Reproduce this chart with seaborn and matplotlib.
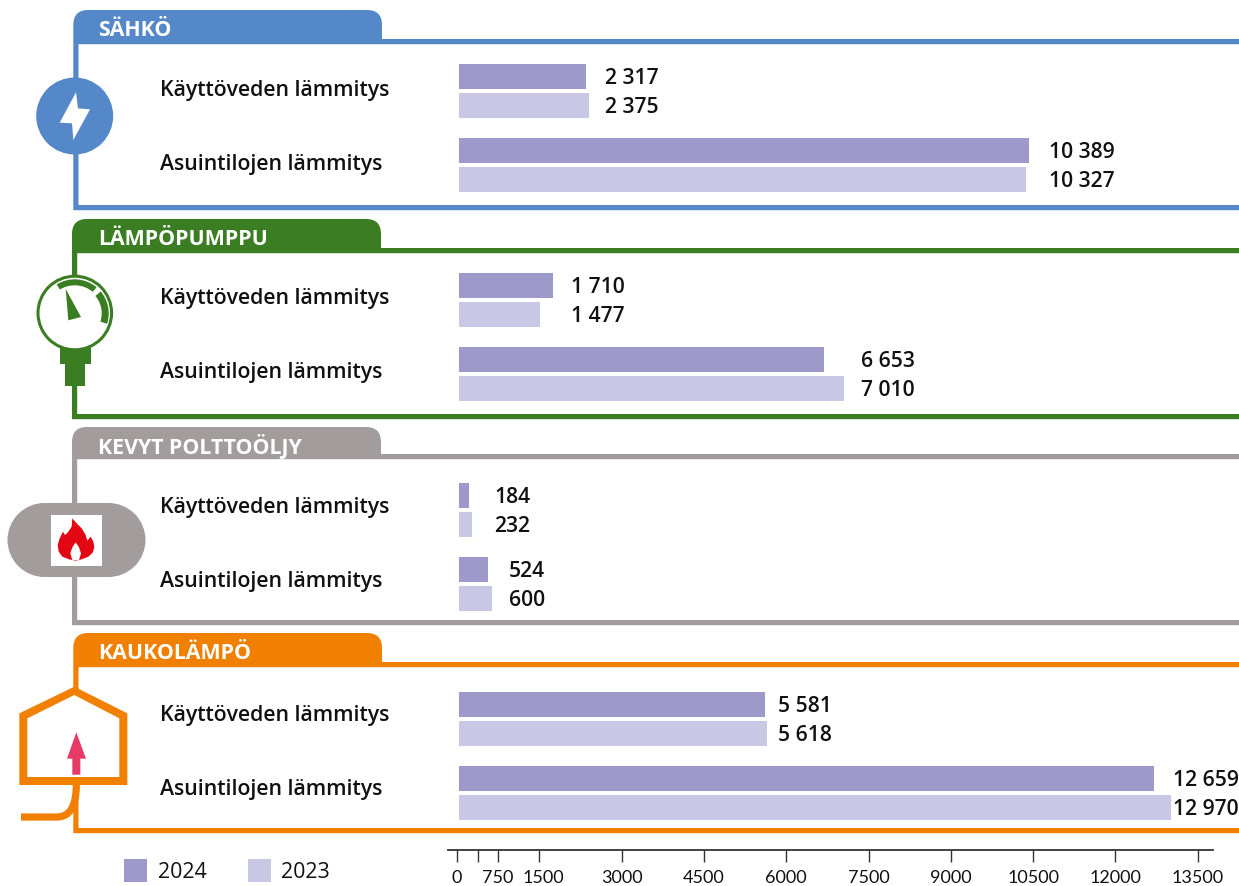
import matplotlib
matplotlib.use("Agg")
import matplotlib.pyplot as plt
from matplotlib.transforms import ScaledTranslation
import pandas as pd
import seaborn as sns
from matplotlib.patches import Circle, Polygon, Rectangle, PathPatch, Wedge
from matplotlib.path import Path

sns.set_theme(style="white")
plt.rcParams["font.family"] = ["Open Sans", "Noto Sans", "DejaVu Sans"]

# Energy use by heating source and purpose
uses = ["Käyttöveden lämmitys", "Asuintilojen lämmitys"]
years = ["2024", "2023"]
sources = ["SÄHKÖ", "LÄMPÖPUMPPU", "KEVYT POLTTOÖLJY", "KAUKOLÄMPÖ"]
sahko_2024 = [2317, 10389]
sahko_2023 = [2375, 10327]
pumppu_2024 = [1710, 6653]
pumppu_2023 = [1477, 7010]
oljy_2024 = [184, 524]
oljy_2023 = [232, 600]
kauko_2024 = [5581, 12659]
kauko_2023 = [5618, 12970]
axis_ticks = [0, 375, 750, 1500, 3000, 4500, 6000, 7500, 9000, 10500, 12000, 13500]
axis_labels = ["0", "", "750", "1500", "3000", "4500", "6000", "7500", "9000", "10500", "12000", "13500"]

W, H = 1239, 886
BLUE, GREEN, GREY, ORANGE = "#5588C8", "#3B7D23", "#A29C9C", "#F28000"
C24, C23 = "#9D99CB", "#C8C8E6"
INK = "#111111"
PX_PER_UNIT = 0.05487

fig = plt.figure(figsize=(W / 100, H / 100), dpi=100)
bg = fig.add_axes([0, 0, 1, 1], zorder=0)
bg.set_xlim(0, W)
bg.set_ylim(H, 0)
bg.axis("off")


def px_shift(dx, dy):
    """Offset in pixels, y up."""
    return ScaledTranslation(dx / 100, dy / 100, fig.dpi_scale_trans)


def panel_frame(color, x0, tab_top, tab_right, tab_base, bottom):
    """Tabbed outline of one panel; y values in pixels, 5 px stroke."""
    t = 5.2
    r = 15
    k = Path.CURVE3
    verts = [(x0, bottom + t), (x0, tab_top + r), (x0, tab_top), (x0 + r, tab_top),
             (tab_right - r, tab_top), (tab_right, tab_top), (tab_right, tab_top + r),
             (tab_right, tab_base), (W, tab_base), (W, tab_base + t),
             (x0 + t, tab_base + t), (x0 + t, bottom), (W, bottom), (W, bottom + t),
             (x0, bottom + t)]
    codes = [Path.MOVETO, Path.LINETO, k, k, Path.LINETO, k, k, Path.LINETO,
             Path.LINETO, Path.LINETO, Path.LINETO, Path.LINETO, Path.LINETO,
             Path.LINETO, Path.CLOSEPOLY]
    bg.add_patch(PathPatch(Path(verts, codes), fc=color, ec="none"))


def scaled(points, ox, oy):
    return [(ox + a / 3, oy + b / 3) for a, b in points]


frames = [
    (BLUE, 73.3, 10, 382, 39, 205),
    (GREEN, 72, 219, 381, 248, 414),
    (GREY, 72, 427, 381, 454, 620),
    (ORANGE, 73.3, 633, 382, 662, 828),
]
title_y = [30.5, 239.5, 446.5, 653.5]
for (c, x0, tt, tr, tb, bt), name, ty in zip(frames, sources, title_y):
    panel_frame(c, x0, tt, tr, tb, bt)
    bg.text(98.5, ty, name, color="white", fontsize=15.4, fontweight="bold", va="center", ha="left")

# Electricity icon
bg.add_patch(Circle((74.7, 116), 38.5, fc=BLUE, ec="none"))
bg.add_patch(Polygon(scaled([(228, 277), (179, 368), (216, 370), (220, 420), (270, 328), (234, 325)], 0, 0),
                     fc="white", ec="none"))

# Heat pump gauge icon
bg.add_patch(Rectangle((60, 348), 31, 16, fc=GREEN, ec="none"))
bg.add_patch(Rectangle((65, 363), 20, 23, fc=GREEN, ec="none"))
bg.add_patch(Circle((74.8, 313), 36.8, fc="white", ec=GREEN, lw=2.2))
bg.add_patch(Wedge((74.7, 313.3), 34, -122, -50, width=6, fc=GREEN, ec="none"))
bg.add_patch(Wedge((74.7, 313.3), 34, -40, 18, width=7, fc=GREEN, ec="none"))
bg.add_patch(Polygon(scaled([(197, 222), (243, 306), (205, 316)], 0, 215), fc=GREEN, ec="none"))

# Fuel oil icon
bg.add_patch(Rectangle((44.5, 503), 64, 74, fc=GREY, ec="none"))
bg.add_patch(Circle((44.5, 540), 37, fc=GREY, ec="none"))
bg.add_patch(Circle((108.5, 540), 37, fc=GREY, ec="none"))
bg.add_patch(Rectangle((51, 515), 51, 51, fc="white", ec="none"))
flame = [(82, 25), (95, 40), (110, 55), (122, 75), (127, 92), (137, 80), (145, 95), (148, 112),
         (143, 128), (130, 140), (110, 148), (92, 152), (72, 148), (52, 140), (41, 125), (38, 105),
         (44, 85), (54, 65), (60, 75), (68, 68), (80, 50)]
bg.add_patch(Polygon(scaled(flame, 45, 510), fc="#E30613", ec="none"))
spark = [(92, 97), (102, 112), (108, 130), (102, 150), (82, 150), (76, 130), (82, 112)]
bg.add_patch(Polygon(scaled(spark, 45, 510), fc="white", ec="none"))

# District heating icon
house_outer = [(223, 170), (382, 250), (382, 465), (58, 465), (58, 250)]
house_inner = [(223, 195), (82, 265), (82, 441), (358, 441), (358, 265)]
bg.add_patch(Polygon(scaled(house_outer, 0, 630), fc=ORANGE, ec="none", zorder=2))
bg.add_patch(Polygon(scaled(house_inner, 0, 630), fc="white", ec="none", zorder=2.1))
bg.add_patch(Polygon(scaled([(229, 307), (258, 386), (241, 386), (241, 434), (217, 434), (217, 386), (201, 386)], 0, 630),
                     fc="#E83A66", ec="none", zorder=2.2))
pipe = Path([(76.3, 785), (76.3, 817), (57, 817), (21, 817)],
            [Path.MOVETO, Path.CURVE3, Path.CURVE3, Path.LINETO])
bg.add_patch(PathPatch(pipe, fc="none", ec=ORANGE, lw=5.2, capstyle="butt", zorder=2))

# Legend
for x, tx, c, label in [(124, 158, C24, years[0]), (248, 281, C23, years[1])]:
    bg.add_patch(Rectangle((x, 859), 23, 23, fc=c, ec="none"))
    bg.text(tx, 872, label, color=INK, fontsize=15.4, va="center", ha="left")

# Bar panels: one axes per heating source, two groups 74 px apart
series = [
    (sahko_2024, sahko_2023, 91, 605, 1049, 3),
    (pumppu_2024, pumppu_2023, 300, 571, 861, 4),
    (oljy_2024, oljy_2023, 510, 494, 509, 5.5),
    (kauko_2024, kauko_2023, 719, 778, 1173, 5.5),
]
X0 = 459
for v24, v23, yc, lx0, lx1, lift in series:
    df = pd.DataFrame({
        "use": uses * 2,
        "year": [years[0]] * 2 + [years[1]] * 2,
        "value": v24 + v23,
    })
    top = yc - 37
    ax = fig.add_axes([X0 / W, 1 - (top + 148) / H, (W - X0) / W, 148 / H], zorder=3)
    ax.patch.set_alpha(0)
    sns.barplot(data=df, y="use", x="value", hue="year", hue_order=years, order=uses,
                palette=[C24, C23], width=0.784, gap=0.138, linewidth=0, ax=ax, legend=False,
                saturation=1, errorbar=None)
    ax.set_xlim(0, (W - X0) / PX_PER_UNIT)
    ax.set_ylim(1.5, -0.5)
    ax.set_xlabel("")
    ax.set_ylabel("")
    ax.set_xticks([])
    sns.despine(ax=ax, left=True, bottom=True)
    ax.tick_params(axis="y", length=0, pad=215.4)
    for lab in ax.get_yticklabels():
        lab.set_ha("left")
        lab.set_color(INK)
        lab.set_fontsize(15.35)
        lab.set_fontweight("semibold")
        lab.set_transform(lab.get_transform() + px_shift(0, lift))
    for container in ax.containers:
        for i, bar in enumerate(container):
            lx = (lx0 if i == 0 else lx1) - X0
            val = int(bar.get_width())
            ax.text(lx / PX_PER_UNIT, bar.get_y() + bar.get_height() / 2,
                    f"{val:,}".replace(",", " "), color=INK, fontsize=15.2,
                    fontweight="semibold", va="center", ha="left", clip_on=False,
                    transform=ax.transData + px_shift(0, -1.7))

# Shared value axis below the panels
x_left, x_right = 448, 1213
axis = fig.add_axes([x_left / W, 1 - 849.5 / H, (x_right - x_left) / W, 0.0005], zorder=3)
axis.patch.set_alpha(0)
axis.set_xlim((x_left - 457) / PX_PER_UNIT, (x_right - 457) / PX_PER_UNIT)
axis.set_yticks([])
axis.set_xticks(axis_ticks)
axis.set_xticklabels(axis_labels)
for s in ("left", "right", "top"):
    axis.spines[s].set_visible(False)
axis.spines["bottom"].set_color("#333333")
axis.spines["bottom"].set_linewidth(1.3)
axis.tick_params(axis="x", length=8.5, width=1, color="#333333", pad=6.6, bottom=True)
for tick_value, lab in zip(axis_ticks, axis.get_xticklabels()):
    lab.set_family(["Liberation Sans Narrow", "Lato"])
    lab.set_fontsize(13)
    lab.set_color(INK)
    if tick_value == 1500:
        # nudged clear of the neighbouring 750 label
        lab.set_transform(lab.get_transform() + px_shift(4.5, 0))

fig.savefig("out.png", dpi=100)
